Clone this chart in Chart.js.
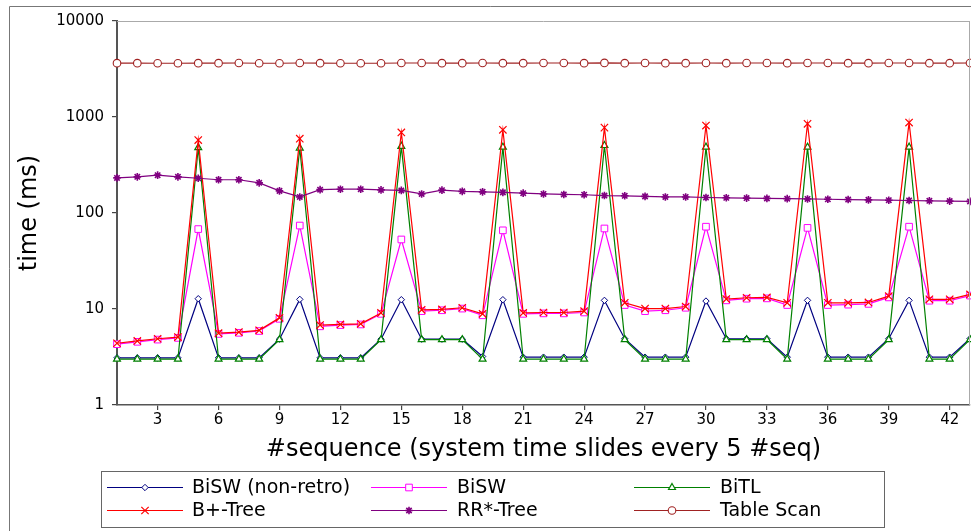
<!DOCTYPE html>
<html>
<head>
<meta charset="utf-8">
<script src="https://cdn.jsdelivr.net/npm/chart.js@4.4.1/dist/chart.umd.min.js"></script>
<style>
  html, body { margin: 0; padding: 0; background: #fff; }
  #wrap { position: absolute; left: 0; top: 0; width: 971px; height: 531px; }
</style>
</head>
<body>
<div id="wrap"><canvas id="c" width="971" height="531"></canvas></div>
<script>
// ---- data ----
const seq = [1,2,3,4,5,6,7,8,9,10,11,12,13,14,15,16,17,18,19,20,21,22,23,24,25,26,27,28,29,30,31,32,33,34,35,36,37,38,39,40,41,42,43];
const xTicks = [3,6,9,12,15,18,21,24,27,30,33,36,39,42];
const yTicks = [1,10,100,1000,10000];

const biswNonRetro = [3.1,3.1,3.1,3.1,12.8,3.1,3.1,3.1,4.85,12.6,3.1,3.1,3.1,4.85,12.5,4.85,4.85,4.85,3.2,12.5,3.15,3.15,3.15,3.15,12.3,4.9,3.15,3.15,3.15,12.1,4.9,4.9,4.9,3.15,12.3,3.15,3.15,3.15,4.9,12.3,3.15,3.15,4.9];
const bisw = [4.3,4.55,4.8,5.0,68,5.5,5.65,5.9,7.9,74,6.6,6.8,6.9,8.9,53,9.5,9.7,10.1,8.6,66,8.9,9.0,9.0,9.2,69,11.0,9.5,9.7,10.3,72,12.3,12.8,12.9,11.0,70,11.0,11.1,11.3,13.2,72,12.2,12.2,13.8];
const bitl = [3.0,3.0,3.0,3.0,480,3.0,3.0,3.0,4.8,475,3.0,3.0,3.0,4.8,495,4.8,4.8,4.8,3.0,485,3.0,3.0,3.0,3.0,505,4.8,3.0,3.0,3.0,485,4.8,4.8,4.8,3.0,485,3.0,3.0,3.0,4.8,485,3.0,3.0,4.8];
const bplusTree = [4.4,4.65,4.9,5.1,575,5.6,5.75,6.0,8.1,595,6.8,6.9,7.0,9.1,690,9.8,9.9,10.3,8.9,735,9.1,9.2,9.2,9.5,775,11.6,10.1,10.1,10.6,815,12.7,13.1,13.2,11.6,850,11.6,11.6,11.7,13.6,875,12.6,12.6,14.2];
const rrStarTree = [232,238,248,238,230,222,222,206,170,147,175,177,177,174,172,158,173,168,166,164,161,158,156,155,152,151,149,147,147,145,144,143,142,141,140,139,138,137,136,135,134,133,132];
const tableScan = [3640,3640,3630,3630,3640,3640,3650,3630,3630,3650,3640,3630,3630,3630,3650,3650,3640,3640,3650,3640,3640,3650,3650,3640,3660,3640,3650,3640,3640,3650,3640,3650,3650,3640,3650,3650,3640,3640,3650,3650,3640,3640,3650];

const seriesNames = ['BiSW (non-retro)','BiSW','BiTL','B+-Tree','RR*-Tree','Table Scan'];
const seriesValues = [biswNonRetro, bisw, bitl, bplusTree, rrStarTree, tableScan];

// ---- styles ----
const styles = [
  {color:'#000080', point:'rectRot', r:3.2, bw:1, bg:'#ffffff'},
  {color:'#ff00ff', point:'rect', r:4.7, bw:1, bg:'#ffffff'},
  {color:'#008000', point:'triangle', r:4, bw:1.2, bg:'#ffffff'},
  {color:'#ff0000', point:'crossRot', r:5.2, bw:1.2, bg:'#ff0000'},
  {color:'#800080', point:'star', r:3.8, bw:1.6, bg:'#800080'},
  {color:'#a02222', point:'circle', r:3.8, bw:1.1, bg:'#ffffff'}
];

const FONT = 'DejaVu Sans';

const datasets = seriesNames.map((name, i) => ({
  label: name,
  data: seq.map((x, k) => ({x: x, y: seriesValues[i][k]})),
  borderColor: styles[i].color,
  backgroundColor: styles[i].bg,
  borderWidth: 1.2,
  pointStyle: styles[i].point,
  pointRadius: styles[i].r,
  pointBorderWidth: styles[i].bw,
  pointBackgroundColor: styles[i].bg,
  pointBorderColor: styles[i].color,
  tension: 0,
  clip: false,
  order: 6 - i
}));

const framePlugin = {
  id: 'frame',
  afterDraw(chart) {
    const ctx = chart.ctx;
    const a = chart.chartArea;
    ctx.save();
    // outer frame
    ctx.strokeStyle = '#777';
    ctx.lineWidth = 1;
    ctx.beginPath();
    ctx.moveTo(9.5, 531);
    ctx.lineTo(9.5, 6.5);
    ctx.lineTo(971, 6.5);
    ctx.stroke();
    // top & right border of plot
    ctx.strokeStyle = '#aaa';
    ctx.beginPath();
    ctx.moveTo(a.left, Math.round(a.top) + 0.5);
    ctx.lineTo(a.right, Math.round(a.top) + 0.5);
    ctx.moveTo(Math.round(a.right) - 0.5, a.top);
    ctx.lineTo(Math.round(a.right) - 0.5, a.bottom);
    ctx.stroke();

    // legend
    const boxX = 101.5, boxY = 471.5, boxW = 783, boxH = 56;
    ctx.strokeStyle = '#666';
    ctx.lineWidth = 1;
    ctx.strokeRect(boxX, boxY, boxW, boxH);
    const colLine = [[107, 183], [371, 447], [634, 710]];
    const colText = [192, 457, 720];
    const rowY = [487.5, 510.5];
    ctx.font = '19px "' + FONT + '"';
    ctx.textBaseline = 'middle';
    ctx.textAlign = 'left';
    chart.data.datasets.forEach((ds, i) => {
      const col = i % 3, row = Math.floor(i / 3);
      const y = rowY[row];
      ctx.strokeStyle = ds.borderColor;
      ctx.lineWidth = 1.2;
      ctx.beginPath();
      ctx.moveTo(colLine[col][0], y);
      ctx.lineTo(colLine[col][1], y);
      ctx.stroke();
      ctx.fillStyle = ds.pointBackgroundColor;
      ctx.strokeStyle = ds.pointBorderColor;
      ctx.lineWidth = ds.pointBorderWidth;
      Chart.helpers.drawPoint(ctx, {pointStyle: ds.pointStyle, radius: ds.pointRadius, borderWidth: ds.pointBorderWidth, rotation: 0}, (colLine[col][0] + colLine[col][1]) / 2, y);
      ctx.fillStyle = '#000';
      ctx.fillText(ds.label, colText[col], y + 1);
    });
    ctx.restore();
  }
};

new Chart(document.getElementById('c'), {
  type: 'line',
  data: { datasets: datasets },
  options: {
    responsive: false,
    devicePixelRatio: 1,
    animation: false,
    layout: { autoPadding: false, padding: { top: 21, right: 1, left: 0, bottom: 66 } },
    plugins: { legend: { display: false }, tooltip: { enabled: false } },
    scales: {
      x: {
        type: 'linear',
        min: 1,
        max: 43,
        afterBuildTicks(scale) { scale.ticks = xTicks.map(v => ({value: v})); },
        afterFit(scale) { scale.height = 60; },
        grid: { display: true, drawOnChartArea: false, drawTicks: true, tickLength: 5, color: '#444', lineWidth: 1.2 },
        border: { display: true, color: '#555', width: 1.5 },
        ticks: { color: '#000', font: { family: FONT, size: 15 }, padding: 1, maxRotation: 0, autoSkip: false, callback: v => String(v) },
        title: { display: true, text: '#sequence (system time slides every 5 #seq)', color: '#000', font: { family: FONT, size: 24 }, padding: { top: 0, bottom: 1 } }
      },
      y: {
        type: 'logarithmic',
        min: 1,
        max: 10000,
        afterBuildTicks(scale) { scale.ticks = yTicks.map(v => ({value: v})); },
        afterFit(scale) { scale.width = 117; },
        grid: { display: true, drawOnChartArea: false, drawTicks: true, tickLength: 5, color: '#444', lineWidth: 1.2 },
        border: { display: true, color: '#555', width: 2 },
        ticks: { color: '#000', font: { family: FONT, size: 15 }, padding: 8, autoSkip: false, callback: v => String(v) },
        title: { display: true, text: 'time (ms)', color: '#000', font: { family: FONT, size: 24 }, padding: { top: 15, bottom: 0 } }
      }
    }
  },
  plugins: [framePlugin]
});
</script>
</body>
</html>
